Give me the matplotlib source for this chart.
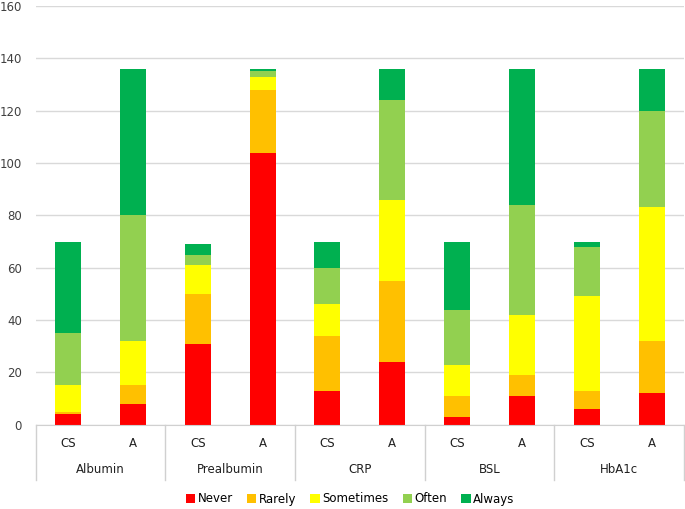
import matplotlib.pyplot as plt
import matplotlib.transforms as mtransforms
import numpy as np

groups = ['Albumin', 'Prealbumin', 'CRP', 'BSL', 'HbA1c']
subs = ['CS', 'A']
levels = ['Never', 'Rarely', 'Sometimes', 'Often', 'Always']
colors = ['#ff0000', '#ffc000', '#ffff00', '#92d050', '#00b050']

# one value per bar: Albumin CS, Albumin A, Prealbumin CS, ... HbA1c A
never = [4, 8, 31, 104, 13, 24, 3, 11, 6, 12]
rarely = [1, 7, 19, 24, 21, 31, 8, 8, 7, 20]
sometimes = [10, 17, 11, 5, 12, 31, 12, 23, 36, 51]
often = [20, 48, 4, 2, 14, 38, 21, 42, 19, 37]
always = [35, 56, 4, 1, 10, 12, 26, 52, 2, 16]

plt.rcParams['font.family'] = ['DejaVu Sans']
plt.rcParams['font.size'] = 8

fig = plt.figure(figsize=(6.85, 5.09), dpi=100)
ax = fig.add_axes([35.7 / 685, 1 - 424.7 / 509, (684 - 35.7) / 685, (424.7 - 6) / 509])

x = np.arange(len(never))
bottom = np.zeros(len(never))
for name, vals, c in zip(levels, [never, rarely, sometimes, often, always], colors):
    ax.bar(x, vals, 0.4, bottom=bottom, color=c, label=name, zorder=2)
    bottom += np.array(vals)

ax.set_xlim(-0.5, len(never) - 0.5)
ax.set_ylim(0, 160)
ax.set_yticks(range(0, 161, 20))
ax.yaxis.grid(True, color='#d9d9d9', linewidth=1, zorder=0)
ax.tick_params(axis='y', length=0, pad=10, labelsize=8.5, colors='#404040')
ax.set_xticks([])
for s in ['top', 'right', 'left']:
    ax.spines[s].set_visible(False)
ax.spines['bottom'].set_color('#d0d0d0')

# two-level category axis like Excel
trans = mtransforms.blended_transform_factory(ax.transData, ax.transAxes)
for i in range(len(never)):
    ax.text(x[i], -0.044, subs[i % 2], transform=trans, ha='center', va='center',
            fontsize=8.5, color='#202020')
for g, name in enumerate(groups):
    ax.text(2 * g + 0.5, -0.108, name, transform=trans, ha='center', va='center',
            fontsize=8.5, color='#202020')
for b in range(len(groups) + 1):
    ax.plot([2 * b - 0.5, 2 * b - 0.5], [0, -0.133], transform=trans, color='#d0d0d0',
            linewidth=1, clip_on=False)

fig.legend(loc='center', bbox_to_anchor=(350 / 685, 1 - 499 / 509), ncol=5, frameon=False,
           handlelength=0.8, handleheight=0.8, handletextpad=0.2, columnspacing=1.2,
           fontsize=8.5)

fig.savefig('out.png', dpi=100)
